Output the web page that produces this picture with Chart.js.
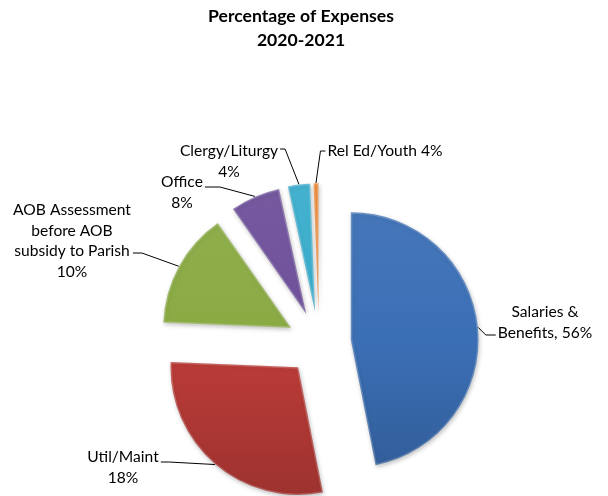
<!DOCTYPE html>
<html><head><meta charset="utf-8">
<script src="https://cdn.jsdelivr.net/npm/chart.js@4.4.1/dist/chart.umd.min.js"></script>
<style>html,body{margin:0;padding:0;background:#fff;}#wrap{width:608px;height:496px;position:relative;}</style>
</head><body><div id="wrap"><canvas id="c" width="608" height="496"></canvas></div>
<script>
// ---- data ----
const titleLines = ['Percentage of Expenses', '2020-2021'];
const categories = ['Salaries & Benefits', 'Util/Maint', 'AOB Assessment before AOB subsidy to Parish', 'Office', 'Clergy/Liturgy', 'Rel Ed/Youth'];
const values = [46.8, 28.7, 14.6, 6.3, 2.8, 0.6];
const labelLines = [
  ['Salaries &', 'Benefits, 56%'],
  ['Util/Maint', '18%'],
  ['AOB Assessment', 'before AOB', 'subsidy to Parish', '10%'],
  ['Office', '8%'],
  ['Clergy/Liturgy', '4%'],
  ['Rel Ed/Youth 4%']
];
// ---- styles ----
const colors = ['#3b6fb5', '#b93b37', '#8aab44', '#6f519b', '#3aadcc', '#ee8630'];
const explode = [32, 32, 32, 32, 32, 32];
const labelLayout = [
  {dx: 226, dy: -31, cy: -8, side: 'right', stub: 10},
  {dx: -196, dy: 114, cy: 119, side: 'left', stub: 8},
  {dx: -247, dy: -133, cy: -90, side: 'left', stub: 9},
  {dx: -137, dy: -161, cy: -156, side: 'left', stub: 15},
  {dx: -90, dy: -192, cy: -194, side: 'left', stub: 5},
  {dx: 66, dy: -192, cy: -192, side: 'right', stub: 5}
];
const labelFont = '15.6px Lato';
const lineH = 20.7;

function shade(hex, f) {
  const n = parseInt(hex.slice(1), 16);
  let r = (n >> 16) & 255, g = (n >> 8) & 255, b = n & 255;
  const m = v => Math.max(0, Math.min(255, Math.round(f >= 0 ? v + (255 - v) * f : v * (1 + f))));
  return 'rgb(' + m(r) + ',' + m(g) + ',' + m(b) + ')';
}

const explodePlugin = {
  id: 'explode',
  beforeDatasetsDraw(chart) {
    const meta = chart.getDatasetMeta(0);
    meta.data.forEach((el, i) => {
      if (el._patched) return;
      const orig = el.draw;
      el.draw = function (ctx) {
        const a = (this.startAngle + this.endAngle) / 2;
        const d = explode[i];
        ctx.save();
        ctx.translate(Math.cos(a) * d, Math.sin(a) * d);
        ctx.shadowColor = 'rgba(0,0,0,0.25)';
        ctx.shadowBlur = 4;
        ctx.shadowOffsetX = 1;
        ctx.shadowOffsetY = 2;
        orig.call(this, ctx);
        ctx.restore();
      };
      el._patched = true;
    });
  }
};

const titlePlugin = {
  id: 'titleText',
  afterDraw(chart) {
    const ctx = chart.ctx;
    ctx.save();
    ctx.fillStyle = '#000';
    ctx.font = 'bold 17.6px Lato';
    ctx.textAlign = 'center';
    ctx.textBaseline = 'middle';
    titleLines.forEach((t, k) => ctx.fillText(t, 301, 16 + k * 24));
    ctx.restore();
  }
};

const labelPlugin = {
  id: 'leaderLabels',
  afterDatasetsDraw(chart) {
    const ctx = chart.ctx;
    const meta = chart.getDatasetMeta(0);
    ctx.save();
    ctx.font = labelFont;
    ctx.fillStyle = '#000';
    ctx.strokeStyle = '#000';
    ctx.lineWidth = 1;
    ctx.textAlign = 'center';
    ctx.textBaseline = 'middle';
    meta.data.forEach((el, i) => {
      const L = labelLayout[i];
      const a = (el.startAngle + el.endAngle) / 2;
      const r = el.outerRadius + explode[i];
      const px = el.x + Math.cos(a) * r, py = el.y + Math.sin(a) * r;
      const cx = el.x + L.dx, y0 = el.y + L.dy, cy = el.y + L.cy;
      const lines = labelLines[i];
      const w = Math.max(...lines.map(t => ctx.measureText(t).width));
      const end = L.side === 'right' ? cx - w / 2 - 2 : cx + w / 2 + 2;
      const elbow = L.side === 'right' ? end - L.stub : end + L.stub;
      ctx.beginPath();
      ctx.moveTo(px, py);
      ctx.lineTo(elbow, cy);
      ctx.lineTo(end, cy);
      ctx.stroke();
      lines.forEach((t, k) => ctx.fillText(t, cx, y0 + k * lineH));
    });
    ctx.restore();
  }
};

new Chart(document.getElementById('c'), {
  type: 'pie',
  data: {
    labels: categories,
    datasets: [{
      data: values,
      backgroundColor: (c) => {
        const area = c.chart.chartArea;
        const col = colors[c.dataIndex];
        if (!area) return col;
        const cy = (area.top + area.bottom) / 2;
        const g = c.chart.ctx.createLinearGradient(0, cy - 128, 0, cy + 128);
        g.addColorStop(0, shade(col, 0.05));
        g.addColorStop(0.5, col);
        g.addColorStop(1, shade(col, -0.15));
        return g;
      },
      borderColor: 'rgba(255,255,255,0.2)',
      borderWidth: 1.5,
      borderAlign: 'inner',
      clip: false
    }]
  },
  options: {
    responsive: false,
    animation: false,
    events: [],
    radius: 128,
    layout: {padding: {left: 130, right: 100, top: 190, bottom: 0}},
    plugins: {legend: {display: false}, tooltip: {enabled: false}, title: {display: false}}
  },
  plugins: [explodePlugin, labelPlugin, titlePlugin]
});
</script></body></html>
